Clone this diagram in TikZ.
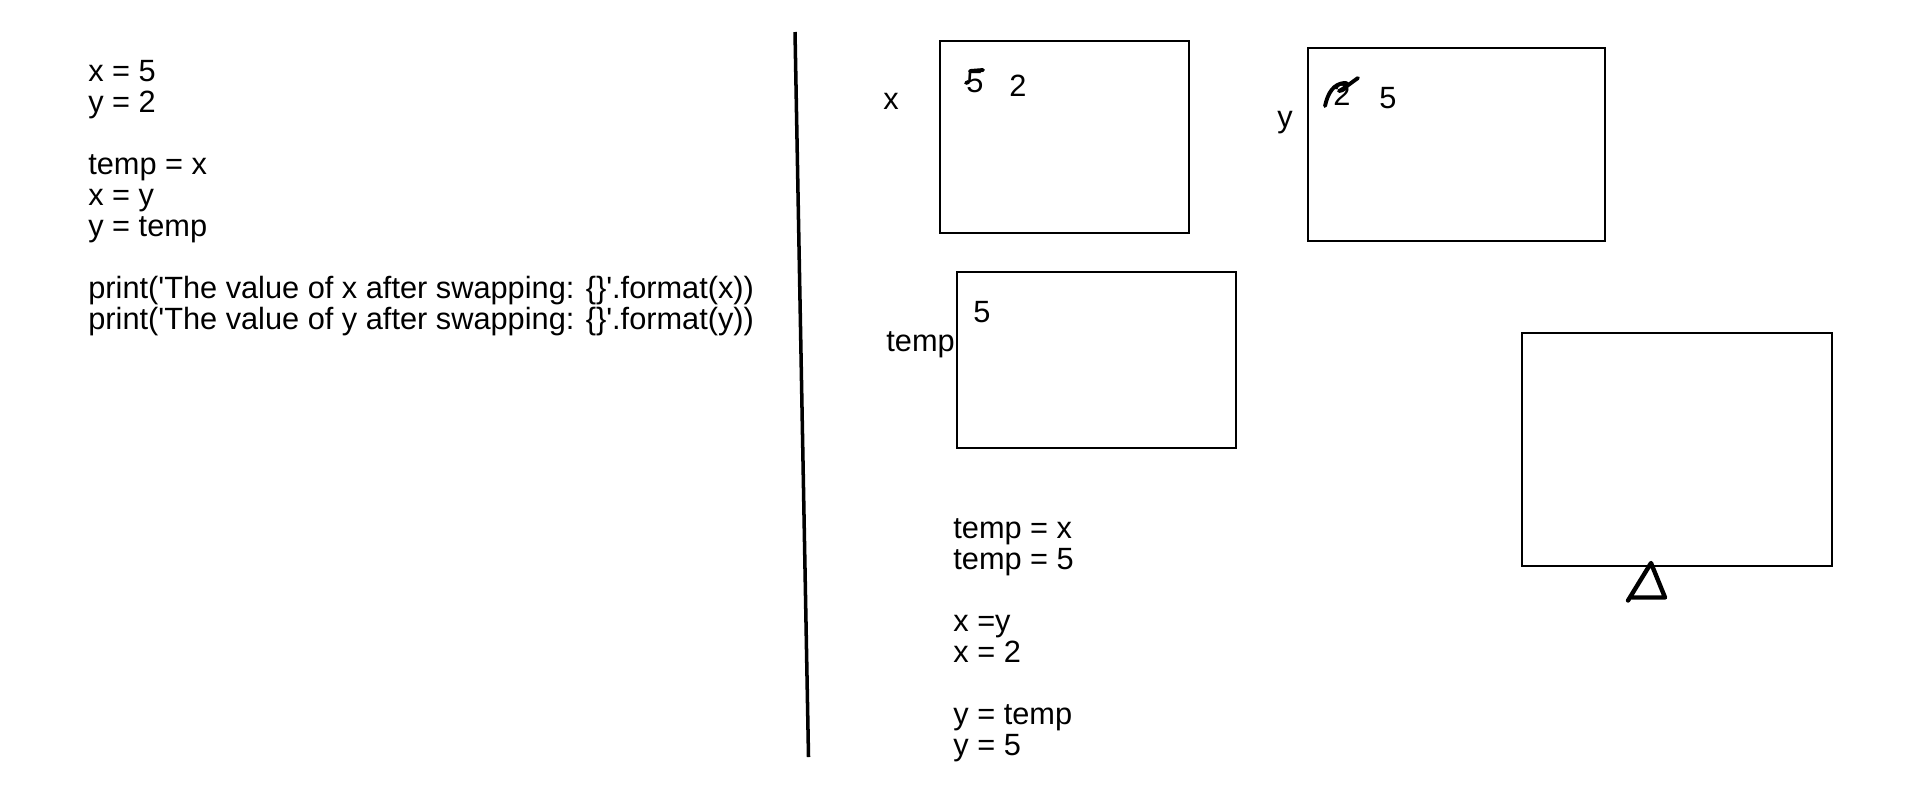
\documentclass[tikz,border=0pt]{standalone}
\usepackage{fontspec}
\usepackage{tikz}
\usetikzlibrary{positioning}
\newfontfamily\handfont{Liberation Sans}

\begin{document}
\begin{tikzpicture}[
  x=0.02cm, y=-0.02cm,
  txt/.style={font=\handfont\fontsize{17.5pt}{17.5pt}\selectfont, inner sep=0pt, anchor=base west},
  varbox/.style={draw, line width=1pt},
  pen/.style={line width=2.2pt, line cap=round, line join=round},
]
  \useasboundingbox (0,0) rectangle (1919,799);
  % left: the program
  \foreach \t/\yy [count=\i] in {{x = 5}/81, {y = 2}/112, {temp = x}/174, {x = y}/205, {y = temp}/236,
      {print('The value of x after swapping: \{\}'.format(x))}/298,
      {print('The value of y after swapping: \{\}'.format(y))}/329}
    \node[txt] (code\i) at (88,\yy) {\t};
  % divider
  \draw[line width=2pt] (795,32) -- (808.5,757);
  % --- variable boxes ---
  \draw[varbox] (940,41) rectangle (1189,233);
  \draw[varbox] (1308,48) rectangle (1605,241);
  \draw[varbox] (957,272) rectangle (1236,448);
  \draw[varbox] (1522,333) rectangle (1832,566);
  \node[txt] (xname) at (883,109.5) {x};
  \node[txt] (yname) at (1277,127) {y};
  \node[txt] (tempname) at (886,351) {temp};
  % values, old ones scribbled over
  \node[txt] (xold) at (966,92) {5};
  \node[txt] (xnew) at (1009,96) {2};
  \node[txt] (yold) at (1333,105) {2};
  \node[txt] (ynew) at (1379,108) {5};
  \node[txt] (tempval) at (973,322) {5};
  \draw[pen] (970,71) -- (983,70);
  \draw[pen] (966,83) -- (968.5,82);
  \draw[pen] (1325,106) .. controls (1328,92) and (1334,84) .. (1344,83)
    .. controls (1350,82) and (1347,90) .. (1339,91)
    .. controls (1345,88) and (1352,82) .. (1358,78);
  % triangle under the empty box
  \draw[pen, line width=2.5pt] (1628,600.5) -- (1651,563) -- (1665,597.5) -- (1632,597.5);
  % --- trace of the swap ---
  \foreach \t/\yy [count=\i] in {{temp = x}/538, {temp = 5}/569, {x =y}/631, {x = 2}/662,
      {y = temp}/724, {y = 5}/755}
    \node[txt] (trace\i) at (953,\yy) {\t};
\end{tikzpicture}
\end{document}
